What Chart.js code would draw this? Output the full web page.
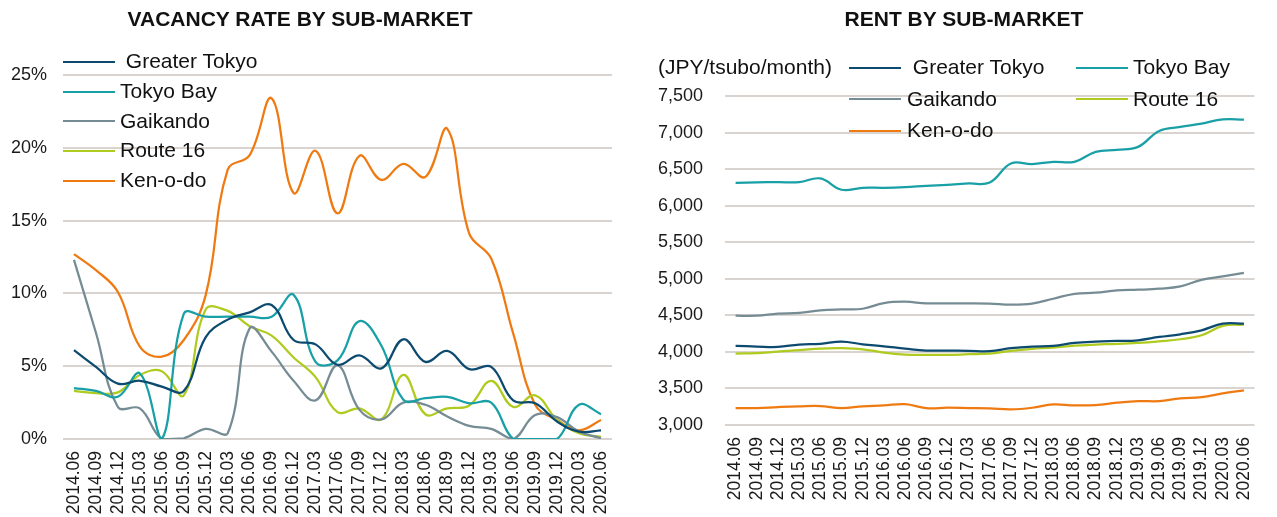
<!DOCTYPE html>
<html>
<head>
<meta charset="utf-8">
<script src="https://cdn.jsdelivr.net/npm/chart.js@4.4.1/dist/chart.umd.min.js"></script>
<style>
  html, body { margin:0; padding:0; background:#fff; }
  body { width:1277px; height:517px; position:relative; overflow:hidden; font-family:"Liberation Sans", Arial, sans-serif; color:#111; }
  canvas { position:absolute; top:0; }
  #cL { left:0; }
  #cR { left:638px; }
  .title { position:absolute; top:7px; font-weight:bold; font-size:21px; line-height:24px; white-space:nowrap; transform:translateX(-50%); }
  .lg-line { position:absolute; height:2px; width:52px; }
  .lg-text { position:absolute; font-size:21px; line-height:24px; white-space:pre; }
</style>
</head>
<body>
<canvas id="cL" width="638" height="517"></canvas>
<canvas id="cR" width="639" height="517"></canvas>
<div class="title" style="left:300px;">VACANCY RATE BY SUB-MARKET</div>
<div class="title" style="left:964px;">RENT BY SUB-MARKET</div>
<div id="legends"></div>
<script>
const categories = ['2014.06','2014.09','2014.12','2015.03','2015.06','2015.09','2015.12','2016.03','2016.06','2016.09','2016.12','2017.03','2017.06','2017.09','2017.12','2018.03','2018.06','2018.09','2018.12','2019.03','2019.06','2019.09','2019.12','2020.03','2020.06'];
const seriesNames = ['Greater Tokyo','Tokyo Bay','Gaikando','Route 16','Ken-o-do'];

// Vacancy rate (%)
const vacGreaterTokyo = [6.1,4.95,3.8,4.0,3.6,3.3,7.0,8.2,8.7,9.2,6.8,6.5,5.1,5.75,4.85,6.85,5.3,6.05,4.8,4.95,2.65,2.45,1.2,0.5,0.6];
const vacTokyoBay     = [3.5,3.3,2.9,4.5,0,8.6,8.4,8.4,8.4,8.4,9.9,5.3,5.4,8.1,6.4,2.7,2.8,2.9,2.45,2.5,0,0,0,2.35,1.7];
const vacGaikando     = [12.3,7.3,2.2,2.1,0,0.05,0.7,0.4,7.6,6.0,4.0,2.65,5.05,2.0,1.35,2.5,2.35,1.55,0.9,0.7,0,1.65,1.5,0.5,0.05];
const vacRoute16      = [3.3,3.15,3.2,4.4,4.65,3.0,8.9,8.8,7.75,7.1,5.6,4.25,1.85,2.1,1.35,4.4,1.7,2.1,2.3,4.0,2.2,3.0,1.3,0.4,0.15];
const vacKenodo       = [12.7,11.6,10.1,6.35,5.65,6.8,9.9,18.5,19.5,23.4,16.9,19.8,15.5,19.45,17.8,18.9,18.0,21.3,14.1,12.4,7.25,2.35,1.3,0.6,1.3];

// Rent (JPY/tsubo/month)
const rentGreaterTokyo = [4082,4073,4068,4100,4109,4141,4104,4077,4045,4018,4018,4014,4009,4050,4073,4082,4123,4141,4150,4159,4204,4241,4295,4386,4386];
const rentTokyoBay     = [6313,6318,6322,6322,6372,6218,6245,6245,6254,6272,6286,6304,6318,6577,6568,6600,6600,6736,6763,6804,7022,7077,7122,7181,7177];
const rentGaikando     = [4495,4495,4523,4532,4568,4582,4590,4668,4686,4664,4664,4664,4660,4645,4660,4727,4795,4809,4840,4850,4864,4895,4986,5032,5082];
const rentRoute16      = [3977,3982,4005,4023,4045,4050,4036,3991,3964,3959,3959,3968,3977,4014,4041,4059,4086,4100,4109,4123,4145,4173,4227,4355,4373];
const rentKenodo       = [3232,3232,3245,3255,3259,3232,3255,3268,3286,3232,3236,3232,3227,3214,3236,3282,3268,3273,3305,3327,3327,3364,3382,3432,3473];

const vacTicks = [0,5,10,15,20,25];
const rentTicks = [3000,3500,4000,4500,5000,5500,6000,6500,7000,7500];

const colors = ['#0d4a70','#18a0a6','#768c94','#b0cb1f','#f07a12'];
const FONT = '"Liberation Sans", Arial, sans-serif';
const TXT = '#1a1a1a';
const GRID = '#d9d4cf';

function mkDatasets(arrs){
  return arrs.map((d,i)=>({label:seriesNames[i], data:d, borderColor:colors[i], backgroundColor:colors[i], borderWidth:2.25, pointRadius:0, tension:0.4, fill:false}));
}

function mkOptions(cfg){
  return {
    responsive:false, animation:false, devicePixelRatio:1,
    layout:{padding:{top:cfg.top, right:cfg.right, left:0, bottom:0}},
    plugins:{legend:{display:false}, title:{display:false}, tooltip:{enabled:false}},
    scales:{
      x:{
        type:'category', offset:true,
        grid:{display:false, drawTicks:false}, border:{display:false},
        ticks:{autoSkip:false, minRotation:90, maxRotation:90, padding:cfg.xpad, color:TXT, font:{family:FONT, size:17.5}},
        afterFit(s){ s.height = cfg.xh; }
      },
      y:{
        min:cfg.min, max:cfg.max,
        afterBuildTicks(s){ s.ticks = cfg.ticks.map(v=>({value:v})); },
        grid:{color:GRID, lineWidth:2, drawTicks:false}, border:{display:false},
        ticks:{padding:cfg.ypad, color:TXT, font:{family:FONT, size:18}, callback:cfg.fmt},
        afterFit(s){ s.width = cfg.yw; }
      }
    }
  };
}

new Chart(document.getElementById('cL'), {
  type:'line',
  data:{labels:categories, datasets:mkDatasets([vacGreaterTokyo,vacTokyoBay,vacGaikando,vacRoute16,vacKenodo])},
  options:mkOptions({top:75, right:26, xh:78, yw:63, xpad:12, ypad:16, min:0, max:25, ticks:vacTicks, fmt:v=>v+'%'})
});

new Chart(document.getElementById('cR'), {
  type:'line',
  data:{labels:categories, datasets:mkDatasets([rentGreaterTokyo,rentTokyoBay,rentGaikando,rentRoute16,rentKenodo])},
  options:mkOptions({top:96, right:4, xh:92, yw:87, xpad:12, ypad:22, min:3000, max:7500, ticks:rentTicks, fmt:v=>v.toLocaleString('en-US')})
});

// Legends (HTML text)
const lg = document.getElementById('legends');
function addItem(lineX, textX, y, idx, leadingSpace){
  const l = document.createElement('div');
  l.className='lg-line';
  l.style.left = lineX+'px'; l.style.top = Math.round(y-1)+'px'; l.style.background = colors[idx];
  lg.appendChild(l);
  const t = document.createElement('div');
  t.className='lg-text';
  t.style.left = textX+'px'; t.style.top = (y-12.7)+'px';
  t.textContent = (leadingSpace?' ':'') + seriesNames[idx];
  lg.appendChild(t);
}
// left legend: vertical list
const leftRows = [61.7, 91.5, 121.2, 151, 180.8];
seriesNames.forEach((n,i)=>addItem(63, 120, leftRows[i], i, i===0));
// right legend: unit label + two columns
const unit = document.createElement('div');
unit.className='lg-text';
unit.style.left='658px'; unit.style.top=(67.7-12.7)+'px';
unit.textContent='(JPY/tsubo/month)';
lg.appendChild(unit);
const rightPos = [[849,907,67.7],[1076,1133,67.7],[849,907,99.3],[1076,1133,99.3],[849,907,131]];
seriesNames.forEach((n,i)=>addItem(rightPos[i][0], rightPos[i][1], rightPos[i][2], i, i===0));
</script>
</body>
</html>
